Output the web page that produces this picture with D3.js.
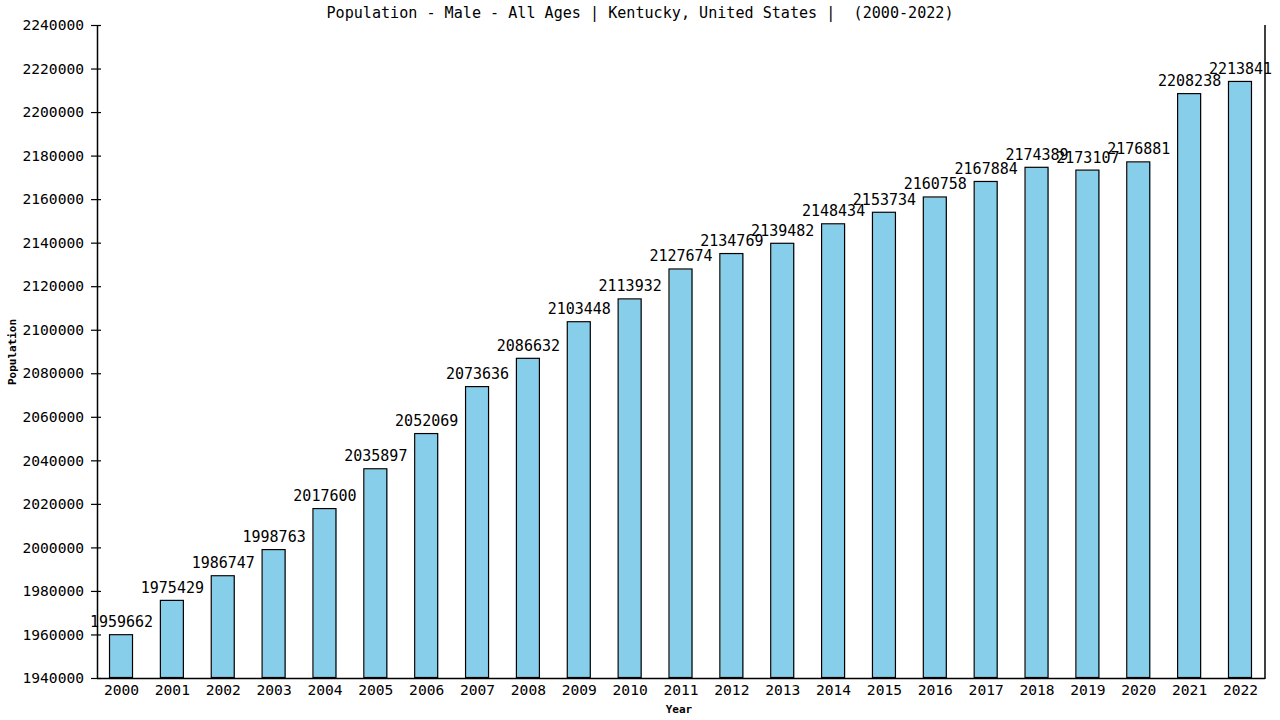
<!DOCTYPE html>
<html>
<head>
<meta charset="utf-8">
<script src="https://cdn.jsdelivr.net/npm/d3@7"></script>
<style>
body{margin:0;background:#fff;}
svg{display:block;}
text{font-family:"DejaVu Sans Mono",monospace;fill:#000;}
</style>
</head>
<body>
<svg id="chart" width="1280" height="720"></svg>
<script>
const years = ["2000","2001","2002","2003","2004","2005","2006","2007","2008","2009","2010","2011","2012","2013","2014","2015","2016","2017","2018","2019","2020","2021","2022"];
const population = [1959662,1975429,1986747,1998763,2017600,2035897,2052069,2073636,2086632,2103448,2113932,2127674,2134769,2139482,2148434,2153734,2160758,2167884,2174389,2173107,2176881,2208238,2213841];
const yTicks = [1940000,1960000,1980000,2000000,2020000,2040000,2060000,2080000,2100000,2120000,2140000,2160000,2180000,2200000,2220000,2240000];
const titleText = "Population - Male - All Ages | Kentucky, United States |  (2000-2022)";

(function(){
const svg = d3.select("#chart");
const pLeft = 97, pRight = 1265, pTop = 25, pBottom = 678;

const x = d3.scaleBand().domain(years).range([pLeft, pRight]).paddingInner(0.548).paddingOuter(0.256);
const y = d3.scaleLinear().domain([1940000, 2240000]).range([pBottom, pTop]);

// title
svg.append("text").attr("x", 640).attr("y", 18).attr("text-anchor", "middle")
  .style("font-size", "15.1px").style("white-space", "pre").text(titleText);

// bars
const g = svg.append("g");
g.selectAll("rect.fill").data(population).join("rect").attr("class", "fill")
  .attr("x", (d, i) => x(years[i]))
  .attr("y", d => y(d))
  .attr("width", x.bandwidth())
  .attr("height", d => pBottom - y(d))
  .attr("fill", "#87CEEB");
g.selectAll("rect.outline").data(population).join("rect").attr("class", "outline")
  .attr("x", (d, i) => x(years[i]) - 0.5)
  .attr("y", d => y(d) - 0.5)
  .attr("width", x.bandwidth())
  .attr("height", d => pBottom - y(d))
  .attr("fill", "none").attr("stroke", "#000").attr("stroke-width", 1.2);

// value labels
g.selectAll("text.val").data(population).join("text").attr("class", "val")
  .attr("x", (d, i) => x(years[i]) + x.bandwidth() / 2)
  .attr("y", d => y(d) - 8)
  .attr("text-anchor", "middle")
  .style("font-size", "15px")
  .text(d => d);

// y axis
const yAxis = d3.axisLeft(y).tickValues(yTicks).tickSize(6).tickPadding(7).tickFormat(d3.format("d"));
const ya = svg.append("g").attr("transform", `translate(${pLeft},0)`).call(yAxis);
ya.select(".domain").attr("stroke", "#000").attr("stroke-width", 1.5).attr("d", `M0.5,${pTop}V${pBottom}`);
ya.selectAll(".tick line").attr("x1", 4).attr("x2", -6).attr("stroke", "#000").attr("stroke-width", 1.2);
ya.selectAll(".tick text").style("font-size", "14.6px").style("font-family", "'DejaVu Sans Mono',monospace").attr("fill", "#000");

// x axis
const xAxis = d3.axisBottom(x).tickSize(0).tickPadding(7);
const xa = svg.append("g").attr("transform", `translate(0,${pBottom})`).call(xAxis);
xa.select(".domain").attr("stroke", "#000").attr("stroke-width", 1.5).attr("d", `M${pLeft},0.5H${pRight}`);
xa.selectAll(".tick text").style("font-size", "14.6px").style("font-family", "'DejaVu Sans Mono',monospace").attr("fill", "#000");

// right frame line
svg.append("line").attr("x1", pRight).attr("x2", pRight).attr("y1", pTop).attr("y2", pBottom + 1)
  .attr("stroke", "#000").attr("stroke-width", 1.5);

// axis titles
svg.append("text").attr("x", 679).attr("y", 713).attr("text-anchor", "middle")
  .style("font-size", "11px").style("font-weight", "bold").text("Year");
svg.append("text").attr("transform", "translate(16,352) rotate(-90)").attr("text-anchor", "middle")
  .style("font-size", "11px").style("font-weight", "bold").text("Population");
})();
</script>
</body>
</html>
